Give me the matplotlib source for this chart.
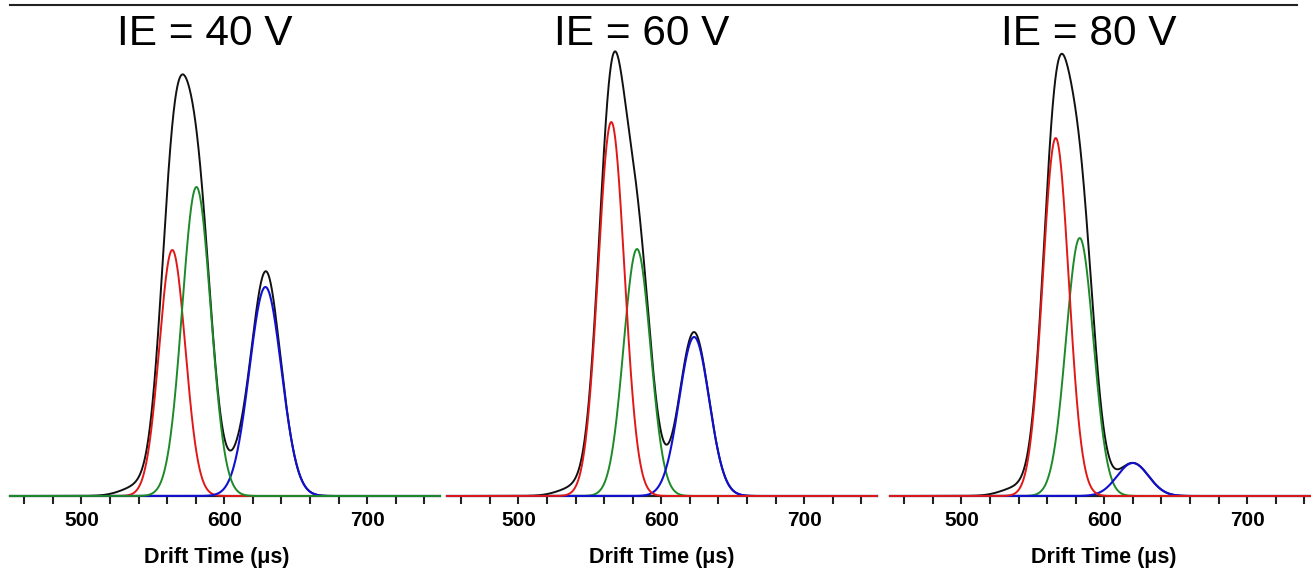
import numpy as np
import matplotlib
matplotlib.use('Agg')
import matplotlib.pyplot as plt
from matplotlib.lines import Line2D

plt.rcParams['font.family'] = ['Liberation Sans', 'DejaVu Sans']

# ion energies of the three panels
energies = ['40', '60', '80']

# fitted components: drift time (µs), height, width (sigma, µs)
red_pos = [563.6, 565.0, 566.0]
red_amp = [246, 374, 358]
red_sig = [9.1, 9.2, 9.1]

green_pos = [580.5, 583.0, 582.8]
green_amp = [309, 247, 258]
green_sig = [10.0, 9.4, 9.6]

blue_pos = [628.8, 623.0, 620.0]
blue_amp = [209, 159, 33]
blue_sig = [11.2, 10.5, 11.0]

# what the measured (black) trace has on top of the three fits
black_extra_pos = [[541, 567, 607, 630], [541, 568, 605, 622], [541, 583, 605, 630]]
black_extra_amp = [[10, 54, 9, 16], [9, 20, 0, 5], [9, 30, 0, 0]]
black_extra_sig = [[12, 8, 6, 6], [12, 7, 6, 6], [12, 9, 6, 6]]

tick_pos = list(range(460, 741, 20))
tick_labels = {500: '500', 600: '600', 700: '700'}
x_label = 'Drift Time (\u03bcs)'

RED = '#e01818'
GREEN = '#1c8a28'
BLUE = '#1010d0'
BLACK = '#111111'


def peak(x, pos, amp, sig):
    return amp * np.exp(-(x - pos) ** 2 / (2 * sig ** 2))


W, H = 1311, 573
fig = plt.figure(figsize=(W / 100, H / 100), dpi=100)

panel_left = [10, 447, 890]
title_x = [205, 642, 1089]
xlabel_x = [217, 662, 1104]

x = np.linspace(450, 751, 1500)

for i in range(3):
    ax = fig.add_axes([panel_left[i] / W, 77 / H, 430 / W, 460 / H])

    red = peak(x, red_pos[i], red_amp[i], red_sig[i])
    green = peak(x, green_pos[i], green_amp[i], green_sig[i])
    blue = peak(x, blue_pos[i], blue_amp[i], blue_sig[i])
    black = red + green + blue
    for p, a, s in zip(black_extra_pos[i], black_extra_amp[i], black_extra_sig[i]):
        black = black + peak(x, p, a, s)

    ax.plot(x, black, color=BLACK, lw=1.4, zorder=3)
    if i == 0:
        ax.plot(x, red, color=RED, lw=1.4, zorder=4)
        ax.plot(x, blue, color=BLUE, lw=1.5, zorder=5)
        ax.plot(x, green, color=GREEN, lw=1.4, zorder=6)
    else:
        ax.plot(x, green, color=GREEN, lw=1.4, zorder=4)
        ax.plot(x, blue, color=BLUE, lw=1.5, zorder=5)
        ax.plot(x, red, color=RED, lw=1.4, zorder=6)

    ax.set_xlim(450, 751)
    ax.set_ylim(0, 460)
    for side in ['top', 'right', 'left']:
        ax.spines[side].set_visible(False)
    ax.spines['bottom'].set_linewidth(1.6)
    ax.spines['bottom'].set_color('#222222')
    ax.set_yticks([])
    ax.set_xticks(tick_pos)
    ax.set_xticklabels([tick_labels.get(t, '') for t in tick_pos],
                       fontsize=15, fontweight='bold')
    ax.tick_params(axis='x', direction='out', length=5.5, width=1.5, pad=5,
                   color='#222222')
    ax.patch.set_visible(False)
    for line in ax.lines:
        line.set_clip_on(False)

    fig.text(title_x[i] / W, 1 - 34 / H, f'IE = {energies[i]} V', fontsize=30.5,
             ha='center', va='center')
    fig.text(xlabel_x[i] / W, 1 - 558 / H, x_label, fontsize=15.5,
             fontweight='bold', ha='center', va='center')

fig.add_artist(Line2D([10 / W, 1297 / W], [1 - 5 / H, 1 - 5 / H],
                      color='#222222', lw=1.5))

fig.savefig('out.png', dpi=100)
